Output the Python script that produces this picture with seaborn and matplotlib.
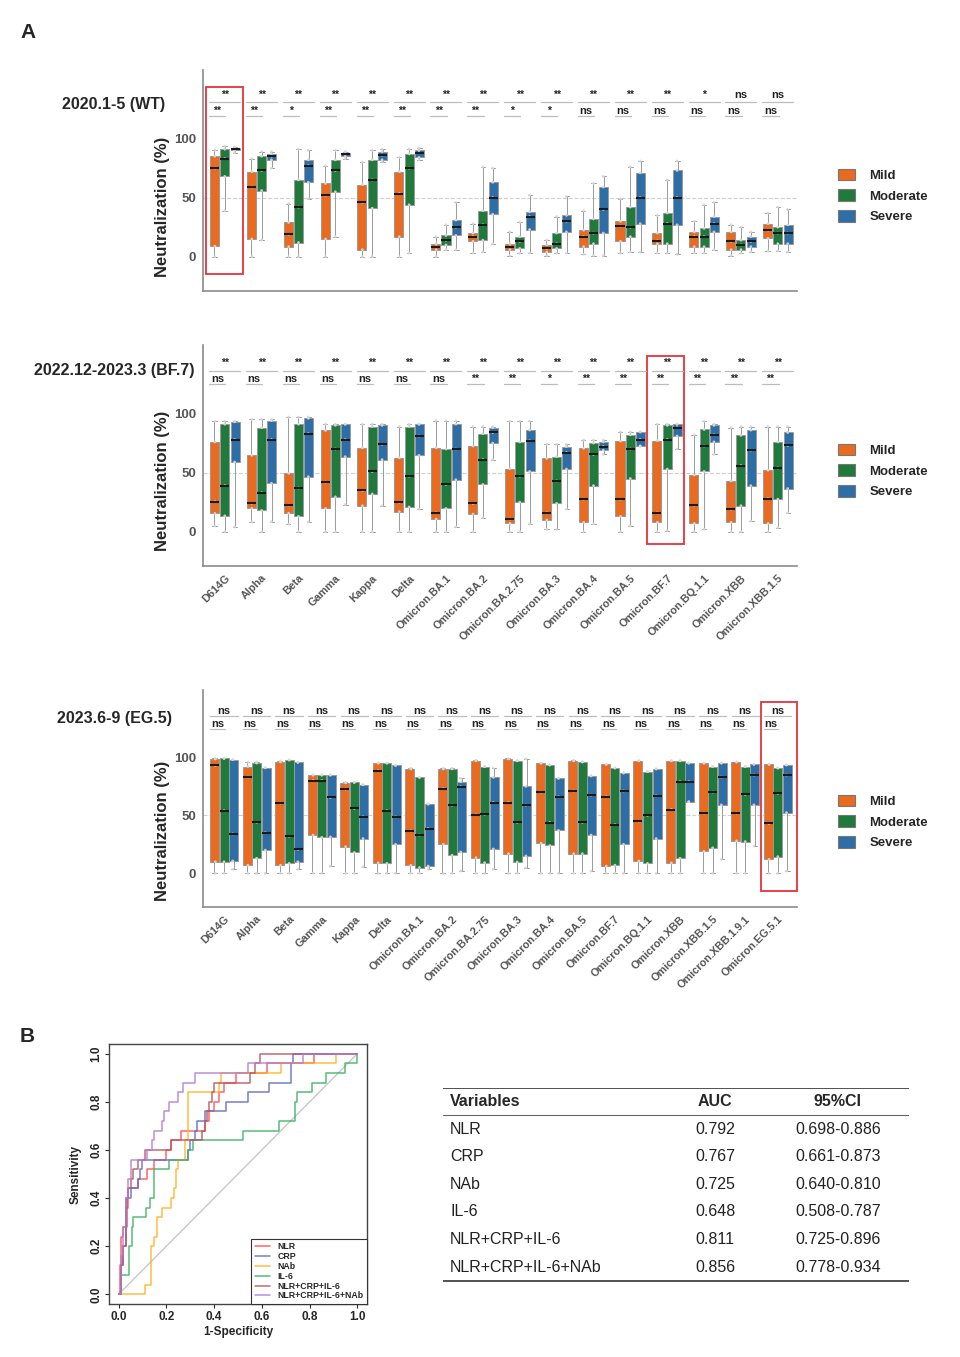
import numpy as np
import pandas as pd
import matplotlib
matplotlib.use('Agg')
import matplotlib.pyplot as plt
from matplotlib.patches import Patch, Rectangle
import seaborn as sns

sns.set_style('white')
plt.rcParams['font.family'] = ['Liberation Sans', 'DejaVu Sans']

# ---------------- data ----------------
severities = ['Mild', 'Moderate', 'Severe']
sev_colors = ['#EA6A1F', '#1F7A3C', '#2D6EA6']

variants_16 = ['D614G', 'Alpha', 'Beta', 'Gamma', 'Kappa', 'Delta', 'Omicron.BA.1', 'Omicron.BA.2',
               'Omicron.BA.2.75', 'Omicron.BA.3', 'Omicron.BA.4', 'Omicron.BA.5', 'Omicron.BF.7',
               'Omicron.BQ.1.1', 'Omicron.XBB', 'Omicron.XBB.1.5']
variants_18 = variants_16 + ['Omicron.XBB.1.9.1', 'Omicron.EG.5.1']

# box summaries: [lower whisker, Q1, median, Q3, upper whisker]
wt_mild = [[0, 9, 75, 85, 90], [0, 15, 59, 72, 83], [0, 8.5, 19, 29, 45], [0, 15, 52, 62, 77],
           [0, 6, 46, 61, 80], [0, 17, 53.5, 72, 84], [0, 6, 8.5, 11, 17], [3, 13, 17, 20, 28],
           [1, 6, 8.5, 11, 21], [1, 4, 7, 10, 14], [2, 8.5, 17, 22.5, 39], [3, 13, 26, 30, 49],
           [3, 11, 13.5, 20, 35], [3, 8.5, 17, 21, 30], [1, 6, 13, 21, 27], [5, 15.5, 22.5, 28, 37]]
wt_moderate = [[39, 68, 83, 91, 93.5], [14, 56, 73, 85, 89], [0, 12, 42, 65, 91], [17, 55, 73, 82, 90],
               [0, 41, 65, 82, 90], [3, 44, 75, 87, 91], [6, 10, 14, 18, 27], [4, 14, 27, 39, 76],
               [3, 7, 13, 17, 29], [3, 7, 11, 20, 34], [1, 11, 20, 32, 62], [4, 17, 25, 42, 76],
               [3, 11, 28, 37, 65], [3, 8.5, 17, 24, 44], [3, 6, 10, 14, 25], [5, 11, 20, 25, 42]]
wt_severe = [[88, 90, 91, 92, 93], [75, 82, 85, 87, 89], [49, 63, 77, 82, 90], [83, 85, 87, 88, 89],
             [80, 82, 86, 89, 91], [82, 84, 88, 90, 92], [6, 18, 25, 31, 46], [11, 36, 50, 63, 75],
             [3, 23, 34, 38, 52], [3, 21, 30, 35, 51], [1, 20, 40, 59, 68], [4, 28, 50, 71, 81],
             [2, 27, 50, 73, 81], [6, 21, 28, 34, 46], [4, 8.5, 13, 17, 21], [4, 11, 20, 27, 40]]
wt_sig_top = ['**'] * 13 + ['*', 'ns', 'ns']
wt_sig_bottom = ['**', '**', '*', '**', '**', '**', '**', '**', '*', '*', 'ns', 'ns', 'ns', 'ns', 'ns', 'ns']

bf7_mild = [[5, 15.5, 25.5, 76, 93.5], [8.5, 19.7, 24, 64.6, 95], [6.5, 15.7, 22.5, 49.4, 97],
            [0, 19.7, 42, 85.7, 91], [0, 22, 35, 71, 91], [0, 17, 25, 62.6, 89], [0, 10.7, 16, 71, 94],
            [0, 15, 24, 72.5, 89], [0, 7, 10.7, 53.4, 93.5], [2, 10, 16, 62, 74], [0, 8, 27.5, 70.5, 77.5],
            [0, 13, 27.5, 76.7, 84.5], [0, 8, 16, 77, 91], [0, 7, 22.5, 48, 82], [0, 8, 19, 43, 88],
            [0, 7, 28, 52, 89]]
bf7_moderate = [[0, 13.5, 39, 91, 93.5], [0, 18, 33, 88, 95], [0, 13, 37, 91, 97], [0, 29.5, 70, 90, 91],
                [0, 32, 51, 89, 91], [0, 21, 47, 89, 91], [0, 19.7, 40, 70, 94], [12, 40, 61, 83, 89],
                [0, 25, 47, 76, 93.5], [2, 24, 43, 63.5, 74], [6.5, 39, 65.5, 75, 77.5], [5, 45, 70, 82, 84.5],
                [1, 53, 78, 90, 91], [2, 51, 72.5, 86.5, 93.5], [0, 22, 56, 81.5, 89], [3.5, 27.5, 54, 76, 89]]
bf7_severe = [[4, 59, 78, 93, 93.5], [8.5, 41, 78, 94, 95], [8.5, 46.6, 83, 96, 97], [23, 63.5, 78, 91, 91],
              [22, 61, 74, 90, 91], [19, 64.6, 81, 91, 91], [4, 44, 70, 91, 94], [61, 75, 84, 88, 89],
              [6.5, 51, 77, 86, 93.5], [19, 53, 67, 72, 74], [65.5, 69, 72, 76, 77.5], [72.5, 72.5, 78, 84.5, 84.5],
              [70, 81, 88, 91, 91], [65.5, 76, 82, 90, 91], [9, 39, 69, 86, 89], [16, 36.5, 73, 84, 89]]
bf7_sig_top = ['**'] * 16
bf7_sig_bottom = ['ns'] * 7 + ['**', '**', '*', '**', '**', '**', '**', '**', '**']

eg5_mild = [[0, 10, 93, 98.5, 99], [0, 7, 83, 92, 95.7], [0, 7, 60.5, 96, 97], [0, 33, 80, 84.7, 84.7],
            [0, 23, 72.6, 78, 78.4], [0, 9, 88.5, 95, 95], [0, 7, 36.6, 90, 90.5], [0, 25, 73, 90, 90.5],
            [0, 13.5, 50.4, 97, 97.5], [0, 17, 61, 98.6, 99], [0, 26, 70, 95, 95], [0, 17, 71, 97, 97.5],
            [0, 6.3, 66, 94, 94], [0, 10.7, 45, 97, 97], [0, 9, 55, 97, 97], [0, 19, 52, 95, 95],
            [0, 28, 52, 96, 96], [0, 12, 43, 94, 94]]
eg5_moderate = [[0, 10, 54, 99, 99], [0, 13, 44, 95, 96], [0, 8.6, 32, 97.7, 97.7], [0, 31, 80, 84.7, 84.7],
                [0, 18, 56, 78.4, 78.4], [0, 8.6, 54, 95, 95], [0, 5, 33, 82.7, 82.7], [0, 15.6, 58.8, 90, 90.5],
                [0, 9.2, 51, 92, 92], [0, 9.8, 44, 97, 97], [0, 24, 43.8, 93.4, 93.4], [0, 17, 44, 96, 96],
                [0, 7, 42, 90.8, 90.8], [0, 8.6, 50, 87.6, 87.6], [0, 13, 79, 97, 97], [0, 22, 70, 92, 92],
                [0, 27.4, 68, 92, 92], [0, 14.4, 69, 90.8, 90.8]]
eg5_severe = [[3.5, 10.7, 34, 98, 98], [0, 20, 35, 91, 91], [3.5, 10, 20.7, 95.7, 95.7], [6.3, 31.4, 65.4, 84.7, 84.7],
              [5.8, 30, 48.7, 76.4, 76.4], [0, 25, 48.7, 93, 93], [3.5, 6.3, 38.6, 59.7, 59.7], [2, 18.4, 74.6, 79, 81.8],
              [3.5, 21, 61, 82.7, 90.8], [5, 15, 58.8, 75, 98.6], [0, 37, 66, 82, 82], [2, 33, 67.4, 84, 84],
              [0, 25, 71, 86.5, 86.5], [0, 30, 66.8, 90, 90], [61.7, 61.7, 79, 95, 95], [12, 59, 83, 95, 95],
              [23.6, 59, 84.7, 94, 94], [2, 52.4, 84.7, 93.4, 93.4]]
eg5_sig_top = ['ns'] * 18
eg5_sig_bottom = ['ns'] * 18

# ROC curves (corner points of each step curve)
roc_names = ['NLR', 'CRP', 'NAb', 'IL-6', 'NLR+CRP+IL-6', 'NLR+CRP+IL-6+NAb']
roc_colors = ['#FF4B4B', '#5A67C4', '#FFB020', '#3DAE63', '#B5525A', '#B07AD8']
nlr_fpr = [0, 0.005, 0.01, 0.02, 0.03, 0.04, 0.08, 0.12, 0.15, 0.20, 0.22, 0.26, 0.36, 0.38, 0.40, 0.42, 0.44, 0.49, 0.62, 0.82, 1.0]
nlr_tpr = [0, 0.12, 0.24, 0.28, 0.36, 0.44, 0.48, 0.52, 0.56, 0.60, 0.64, 0.68, 0.72, 0.76, 0.80, 0.84, 0.88, 0.92, 0.96, 1.0, 1.0]
crp_fpr = [0, 0.01, 0.02, 0.03, 0.05, 0.08, 0.09, 0.10, 0.29, 0.30, 0.32, 0.33, 0.36, 0.45, 0.54, 0.63, 0.72, 0.73, 1.0]
crp_tpr = [0, 0.12, 0.20, 0.40, 0.44, 0.48, 0.52, 0.56, 0.60, 0.64, 0.68, 0.72, 0.76, 0.80, 0.84, 0.88, 0.96, 1.0, 1.0]
nab_fpr = [0, 0.11, 0.135, 0.15, 0.16, 0.18, 0.22, 0.23, 0.24, 0.25, 0.28, 0.29, 0.42, 0.43, 0.68, 0.91, 1.0]
nab_tpr = [0, 0.04, 0.20, 0.24, 0.32, 0.36, 0.40, 0.44, 0.52, 0.56, 0.64, 0.84, 0.88, 0.92, 0.96, 1.0, 1.0]
il6_fpr = [0, 0.01, 0.045, 0.055, 0.06, 0.115, 0.13, 0.15, 0.21, 0.29, 0.31, 0.52, 0.67, 0.74, 0.745, 0.81, 0.87, 0.95, 1.0]
il6_tpr = [0, 0.08, 0.20, 0.28, 0.32, 0.36, 0.40, 0.52, 0.56, 0.60, 0.64, 0.68, 0.72, 0.80, 0.84, 0.88, 0.92, 0.96, 1.0]
combo3_fpr = [0, 0.01, 0.02, 0.03, 0.035, 0.04, 0.05, 0.06, 0.08, 0.11, 0.22, 0.35, 0.36, 0.37, 0.38, 0.39, 0.40, 0.55, 0.57, 0.59, 1.0]
combo3_tpr = [0, 0.12, 0.20, 0.28, 0.40, 0.44, 0.48, 0.52, 0.56, 0.60, 0.64, 0.68, 0.72, 0.76, 0.80, 0.84, 0.88, 0.92, 0.96, 1.0, 1.0]
combo4_fpr = [0, 0.01, 0.02, 0.03, 0.04, 0.05, 0.12, 0.14, 0.15, 0.18, 0.19, 0.21, 0.25, 0.27, 0.32, 0.54, 0.77, 1.0]
combo4_tpr = [0, 0.16, 0.28, 0.40, 0.48, 0.56, 0.60, 0.64, 0.68, 0.72, 0.76, 0.80, 0.84, 0.88, 0.92, 0.96, 1.0, 1.0]

table_vars = ['NLR', 'CRP', 'NAb', 'IL-6', 'NLR+CRP+IL-6', 'NLR+CRP+IL-6+NAb']
table_auc = ['0.792', '0.767', '0.725', '0.648', '0.811', '0.856']
table_ci = ['0.698-0.886', '0.661-0.873', '0.640-0.810', '0.508-0.787', '0.725-0.896', '0.778-0.934']

# ---------------- figure ----------------
fig = plt.figure(figsize=(9.6, 13.57), dpi=100)
H = 1357.0
W = 960.0


def fig_axes(left, top, right, bottom):
    return fig.add_axes([left / W, 1 - bottom / H, (right - left) / W, (bottom - top) / H])


def box_panel(ax, variants, mild, moderate, severe, sig_top, sig_bottom, sig_y, width, gap, show_x, label_y):
    rows = []
    for sev, boxes in zip(severities, [mild, moderate, severe]):
        for v, stats in zip(variants, boxes):
            for val in stats:
                rows.append((v, sev, val))
    df = pd.DataFrame(rows, columns=['variant', 'severity', 'value'])

    ax.axhline(50, color='#cfcfcf', lw=0.8, ls='--', zorder=0)
    sns.boxplot(data=df, x='variant', y='value', hue='severity', order=variants, hue_order=severities,
                palette=sev_colors, whis=(0, 100), width=width, gap=gap, showfliers=False,
                linecolor='#9a9a9a', linewidth=0.7, saturation=1,
                medianprops={'color': '#1a1a1a', 'linewidth': 1.5}, legend=False, ax=ax)
    sns.stripplot(data=df, x='variant', y='value', hue='severity', order=variants, hue_order=severities,
                  palette=['#d8d8d8'] * 3, dodge=True, jitter=False, size=2.0, alpha=0.9,
                  legend=False, zorder=2.05, ax=ax)

    n = len(variants)
    lab_top, line_top, lab_bot, line_bot = sig_y
    for i in range(n):
        ax.plot([i - 0.42, i + 0.42], [line_top, line_top], color='#bdbdbd', lw=0.9, clip_on=False)
        ax.plot([i - 0.42, i + 0.02], [line_bot, line_bot], color='#bdbdbd', lw=0.9, clip_on=False)
        fs_t = 8 if sig_top[i] == 'ns' else 7.5
        fs_b = 8 if sig_bottom[i] == 'ns' else 7.5
        ax.text(i, lab_top, sig_top[i], ha='center', va='center', fontsize=fs_t, color='#222222',
                fontweight='bold', clip_on=False)
        ax.text(i - 0.2, lab_bot, sig_bottom[i], ha='center', va='center', fontsize=fs_b, color='#222222',
                fontweight='bold', clip_on=False)

    ax.set_ylim(-29, 158)
    ax.set_xlim(-0.59, n - 0.48)
    ax.set_yticks([0, 50, 100])
    ax.set_yticklabels(['0', '50', '100'], fontsize=9.5, fontweight='bold', color='#555555')
    ax.set_ylabel('Neutralization (%)', fontsize=12, fontweight='bold')
    ax.yaxis.set_label_coords(-0.056, label_y)
    ax.set_xlabel('')
    if show_x:
        ax.set_xticks(range(n))
        ax.set_xticklabels(variants, rotation=45, ha='right', rotation_mode='anchor',
                           fontsize=7.8, fontweight='bold', color='#555555')
    else:
        ax.set_xticks([])
    ax.tick_params(axis='both', length=0, pad=5)
    for s in ['top', 'right']:
        ax.spines[s].set_visible(False)
    for s in ['left', 'bottom']:
        ax.spines[s].set_color('#8a8a8a')
        ax.spines[s].set_linewidth(1.2)


def add_legend(ycenter):
    handles = [Patch(facecolor=c, edgecolor='#777777', linewidth=0.8) for c in sev_colors]
    fig.legend(handles, severities, loc='center left', bbox_to_anchor=(826 / W, 1 - ycenter / H),
               frameon=False, prop={'weight': 'bold', 'size': 9.5}, handlelength=1.3, handleheight=1.0,
               handletextpad=1.1, labelspacing=0.55)


ax1 = fig_axes(203, 70, 797, 291)
box_panel(ax1, variants_16, wt_mild, wt_moderate, wt_severe, wt_sig_top, wt_sig_bottom,
          (137, 131, 123.5, 119), 0.84, 0.12, False, 0.38)
ax1.add_patch(Rectangle((-0.505, -15), 1.0, 159, fill=False, ec='#E8303A', lw=1.3, clip_on=False))
fig.text(165 / W, 1 - 104 / H, '2020.1-5 (WT)', ha='right', va='center', fontsize=11.5, fontweight='bold')
add_legend(196)

ax2 = fig_axes(203, 345, 797, 566)
box_panel(ax2, variants_16, bf7_mild, bf7_moderate, bf7_severe, bf7_sig_top, bf7_sig_bottom,
          (143, 136, 129, 125), 0.84, 0.12, True, 0.385)
ax2.add_patch(Rectangle((11.45, -10.5), 1.0, 159.5, fill=False, ec='#E8303A', lw=1.3, clip_on=False))
fig.text(194 / W, 1 - 370 / H, '2022.12-2023.3 (BF.7)', ha='right', va='center', fontsize=11.5, fontweight='bold')
add_legend(471)

ax3 = fig_axes(203, 690, 797, 907)
box_panel(ax3, variants_18, eg5_mild, eg5_moderate, eg5_severe, eg5_sig_top, eg5_sig_bottom,
          (140, 135.5, 129, 124), 0.88, 0.06, True, 0.35)
ax3.set_xlim(-0.645, 17.59)
ax3.add_patch(Rectangle((16.5, -15.3), 1.08, 163.3, fill=False, ec='#E8303A', lw=1.3, clip_on=False))
fig.text(172 / W, 1 - 718 / H, '2023.6-9 (EG.5)', ha='right', va='center', fontsize=11.5, fontweight='bold')
add_legend(822)

fig.text(20 / W, 1 - 32 / H, 'A', ha='left', va='center', fontsize=15, fontweight='bold')
fig.text(20 / W, 1 - 1037 / H, 'B', ha='left', va='center', fontsize=15, fontweight='bold')

# ---------------- ROC ----------------
ax4 = fig_axes(109, 1044, 367, 1304)
ax4.plot([0, 1], [0, 1], color='#c8c8c8', lw=1, zorder=0)
roc_fpr = [nlr_fpr, crp_fpr, nab_fpr, il6_fpr, combo3_fpr, combo4_fpr]
roc_tpr = [nlr_tpr, crp_tpr, nab_tpr, il6_tpr, combo3_tpr, combo4_tpr]
for name, col, fx, ty in zip(roc_names, roc_colors, roc_fpr, roc_tpr):
    sns.lineplot(x=fx, y=ty, color=col, label=name, estimator=None, sort=False,
                 drawstyle='steps-post', lw=1.1, alpha=0.85, ax=ax4)
ax4.set_xlim(-0.04, 1.04)
ax4.set_ylim(-0.04, 1.04)
ax4.set_xticks([0, 0.2, 0.4, 0.6, 0.8, 1.0])
ax4.set_yticks([0, 0.2, 0.4, 0.6, 0.8, 1.0])
ax4.set_xticklabels(['0.0', '0.2', '0.4', '0.6', '0.8', '1.0'], fontsize=8.5, fontweight='bold')
ax4.set_yticklabels(['0.0', '0.2', '0.4', '0.6', '0.8', '1.0'], fontsize=8.5, fontweight='bold',
                    rotation=90, va='center')
ax4.tick_params(axis='both', length=3, width=0.8, direction='out', pad=2, left=True, bottom=True)
ax4.set_xlabel('1-Specificity', fontsize=8.5, fontweight='bold', labelpad=2)
ax4.set_ylabel('Sensitivity', fontsize=8.5, fontweight='bold', labelpad=6)
for s in ax4.spines.values():
    s.set_color('#444444')
    s.set_linewidth(1.0)
leg = ax4.legend(loc='lower right', borderaxespad=0, prop={'weight': 'bold', 'size': 6.3},
                 handlelength=1.8, labelspacing=0.1, borderpad=0.4, fancybox=False, framealpha=1,
                 edgecolor='#333333')
leg.get_frame().set_linewidth(0.8)

# ---------------- table ----------------
ax5 = fig_axes(443, 1088, 909, 1282)
ax5.set_xlim(443, 909)
ax5.set_ylim(1282, 1088)
ax5.axis('off')
ax5.plot([443, 909], [1088, 1088], color='#333333', lw=1.2)
ax5.plot([443, 909], [1115, 1115], color='#666666', lw=0.8)
ax5.plot([443, 909], [1281, 1281], color='#333333', lw=1.2)
ax5.text(450, 1101, 'Variables', ha='left', va='center', fontsize=11.5, fontweight='bold')
ax5.text(715, 1101, 'AUC', ha='center', va='center', fontsize=11.5, fontweight='bold')
ax5.text(838, 1101, '95%CI', ha='center', va='center', fontsize=11.5, fontweight='bold')
row_y = [1129, 1156, 1184, 1211, 1239, 1267]
for yy, v, a, c in zip(row_y, table_vars, table_auc, table_ci):
    ax5.text(450, yy, v, ha='left', va='center', fontsize=11.5, color='#222222')
    ax5.text(715, yy, a, ha='center', va='center', fontsize=11.5, color='#222222')
    ax5.text(838, yy, c, ha='center', va='center', fontsize=11.5, color='#222222')

fig.savefig('out.png', dpi=100)
